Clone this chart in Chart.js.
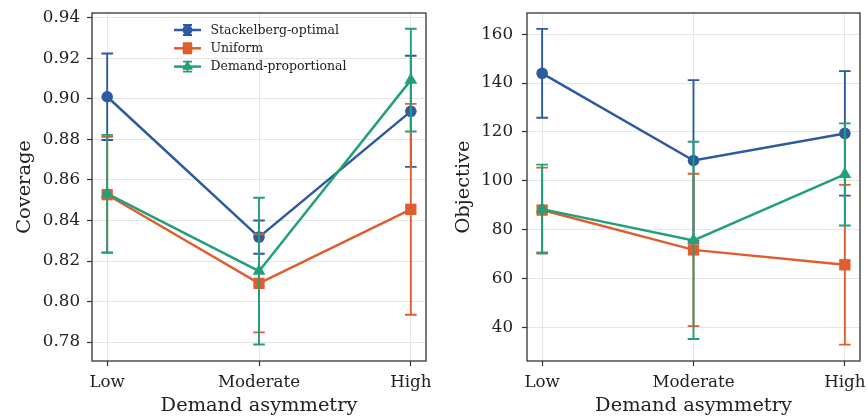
<!DOCTYPE html>
<html><head><meta charset="utf-8">
<script src="https://cdn.jsdelivr.net/npm/chart.js@4.4.1/dist/chart.umd.min.js"></script>
<style>
html,body{margin:0;padding:0;background:#fff;overflow:hidden;width:867px;height:418px;}
#w1{position:absolute;left:0;top:0;width:434px;height:418px;}
#w2{position:absolute;left:434px;top:0;width:434px;height:418px;}
</style></head><body>
<div id="w1"><canvas id="c1"></canvas></div>
<div id="w2"><canvas id="c2"></canvas></div>
<script>
// ---- data ----
const categories = ['Low', 'Moderate', 'High'];
const seriesNames = ['Stackelberg-optimal', 'Uniform', 'Demand-proportional'];

const coverageStackelberg    = [0.9010, 0.8318, 0.8938];
const coverageStackelbergErr = [0.0213, 0.0082, 0.0274];
const coverageUniform        = [0.8527, 0.8090, 0.8455];
const coverageUniformErr     = [0.0286, 0.0242, 0.0520];
const coverageDemand         = [0.8532, 0.8150, 0.9092];
const coverageDemandErr      = [0.0290, 0.0362, 0.0253];

const objectiveStackelberg    = [144.0, 108.3, 119.4];
const objectiveStackelbergErr = [18.2, 32.9, 25.5];
const objectiveUniform        = [88.0, 71.7, 65.6];
const objectiveUniformErr     = [17.4, 31.2, 32.7];
const objectiveDemand         = [88.4, 75.6, 102.6];
const objectiveDemandErr      = [18.2, 40.4, 20.9];

const coverageTicks  = [0.78, 0.80, 0.82, 0.84, 0.86, 0.88, 0.90, 0.92, 0.94];
const objectiveTicks = [40, 60, 80, 100, 120, 140, 160];

// ---- style ----
const COLORS  = ['#2d5aa0', '#e05d30', '#22a079'];
const STYLES  = ['circle', 'rect', 'triangle'];
const RADII   = [5.8, 8.0, 7.4];
const FONT    = "'DejaVu Serif', serif";
const INK     = '#222';

function toPoints(vals){ return vals.map((v,i)=>({x:i, y:v})); }

function makeDatasets(series, errs){
  return series.map((vals, k)=>({
    label: seriesNames[k],
    data: toPoints(vals),
    errors: errs[k],
    borderColor: COLORS[k],
    backgroundColor: COLORS[k],
    pointBackgroundColor: COLORS[k],
    pointBorderColor: COLORS[k],
    pointBorderWidth: 0,
    pointStyle: STYLES[k],
    pointRadius: RADII[k],
    pointHoverRadius: RADII[k],
    borderWidth: 2.5,
    tension: 0,
    fill: false,
    order: 3 - k
  }));
}

const errorBarPlugin = {
  id: 'errorBars',
  beforeDatasetDraw(chart, args){
    const ds = chart.data.datasets[args.index];
    if (!ds.errors) return;
    const xs = chart.scales.x, ys = chart.scales.y, ctx = chart.ctx;
    ctx.save();
    ctx.strokeStyle = ds.borderColor;
    ctx.lineWidth = 1.9;
    ds.data.forEach((p, i)=>{
      const x  = xs.getPixelForValue(p.x);
      const y1 = ys.getPixelForValue(p.y + ds.errors[i]);
      const y2 = ys.getPixelForValue(p.y - ds.errors[i]);
      ctx.beginPath();
      ctx.moveTo(x, y1); ctx.lineTo(x, y2);
      ctx.moveTo(x - 5.8, y1); ctx.lineTo(x + 5.8, y1);
      ctx.moveTo(x - 5.8, y2); ctx.lineTo(x + 5.8, y2);
      ctx.stroke();
    });
    ctx.restore();
  }
};

const framePlugin = {
  id: 'frame',
  afterDraw(chart){
    const a = chart.chartArea, ctx = chart.ctx;
    ctx.save();
    ctx.strokeStyle = '#333';
    ctx.lineWidth = 1.3;
    ctx.strokeRect(a.left, a.top, a.right - a.left, a.bottom - a.top);
    ctx.restore();
  }
};

function drawMarker(ctx, style, x, y, r){
  ctx.beginPath();
  if (style === 'circle') { ctx.arc(x, y, r, 0, Math.PI*2); }
  else if (style === 'rect') { const s = r*Math.SQRT1_2; ctx.rect(x-s, y-s, 2*s, 2*s); }
  else { const h = r; ctx.moveTo(x, y - h); ctx.lineTo(x + h*0.866, y + h*0.5); ctx.lineTo(x - h*0.866, y + h*0.5); ctx.closePath(); }
  ctx.fill();
}

const legendPlugin = {
  id: 'errLegend',
  afterDraw(chart, args, opts){
    if (!opts || !opts.show) return;
    const ctx = chart.ctx;
    ctx.save();
    chart.data.datasets.forEach((ds, k)=>{
      const y = opts.y + k * opts.gap;
      const x0 = opts.x, x1 = opts.x + 27, xc = (x0 + x1)/2;
      ctx.strokeStyle = ds.borderColor; ctx.fillStyle = ds.borderColor;
      ctx.lineWidth = 2.5;
      ctx.beginPath(); ctx.moveTo(x0, y); ctx.lineTo(x1, y); ctx.stroke();
      ctx.lineWidth = 1.9;
      ctx.beginPath();
      ctx.moveTo(xc, y - 5); ctx.lineTo(xc, y + 5);
      ctx.moveTo(xc - 4.5, y - 5); ctx.lineTo(xc + 4.5, y - 5);
      ctx.moveTo(xc - 4.5, y + 5); ctx.lineTo(xc + 4.5, y + 5);
      ctx.stroke();
      drawMarker(ctx, STYLES[k], xc, y, RADII[k]*0.85);
      ctx.fillStyle = INK;
      ctx.font = '12.5px ' + FONT;
      ctx.textBaseline = 'middle';
      ctx.textAlign = 'left';
      ctx.fillText(ds.label, x1 + 9.5, y + 0.5);
    });
    ctx.restore();
  }
};

function makeChart(id, series, errs, yTicks, yMin, yMax, yTitle, fmt, leftW, yPad, titlePad, legendOpts){
  return new Chart(document.getElementById(id), {
    type: 'line',
    data: { datasets: makeDatasets(series, errs) },
    plugins: [errorBarPlugin, framePlugin, legendPlugin],
    options: {
      responsive: true, maintainAspectRatio: false, animation: false,
      devicePixelRatio: 1,
      layout: { padding: { left: 0, right: 434 - 426, top: 13, bottom: 0 } },
      plugins: { legend: { display: false }, tooltip: { enabled: false }, errLegend: legendOpts },
      scales: {
        x: {
          type: 'linear', min: -0.1, max: 2.1,
          afterBuildTicks(s){ s.ticks = categories.map((c, i)=>({ value: i })); },
          afterFit(s){ s.height = 418 - 361; s.paddingLeft = 0; s.paddingRight = 0; },
          ticks: { callback: (v)=> categories[v], font: { family: FONT, size: 16.7 }, color: INK, padding: 7, maxRotation: 0, autoSkip: false },
          grid: { color: '#e6e6e6', lineWidth: 1, tickColor: '#333', tickLength: 5, tickWidth: 1.2 },
          border: { display: false },
          title: { display: true, text: 'Demand asymmetry', font: { family: FONT, size: 19.4 }, color: INK, padding: { top: 0, bottom: 0 } }
        },
        y: {
          min: yMin, max: yMax,
          afterBuildTicks(s){ s.ticks = yTicks.map(v=>({ value: v })); },
          afterFit(s){ s.width = leftW; s.paddingTop = 0; s.paddingBottom = 0; },
          ticks: { callback: fmt, font: { family: FONT, size: 16.7 }, color: INK, padding: yPad },
          grid: { color: '#e6e6e6', lineWidth: 1, tickColor: '#333', tickLength: 5, tickWidth: 1.2 },
          border: { display: false },
          title: { display: true, text: yTitle, font: { family: FONT, size: 19.4 }, color: INK, padding: { top: titlePad, bottom: 0 } }
        }
      }
    }
  });
}

makeChart('c1',
  [coverageStackelberg, coverageUniform, coverageDemand],
  [coverageStackelbergErr, coverageUniformErr, coverageDemandErr],
  coverageTicks, 0.7707, 0.9423, 'Coverage', v => Number(v).toFixed(2), 92, 7, 13.5,
  { show: true, x: 174, y: 30, gap: 18.3 });

makeChart('c2',
  [objectiveStackelberg, objectiveUniform, objectiveDemand],
  [objectiveStackelbergErr, objectiveUniformErr, objectiveDemandErr],
  objectiveTicks, 26.2, 168.7, 'Objective', v => String(v), 93, 9, 18.5,
  { show: false });
</script>
</body></html>
